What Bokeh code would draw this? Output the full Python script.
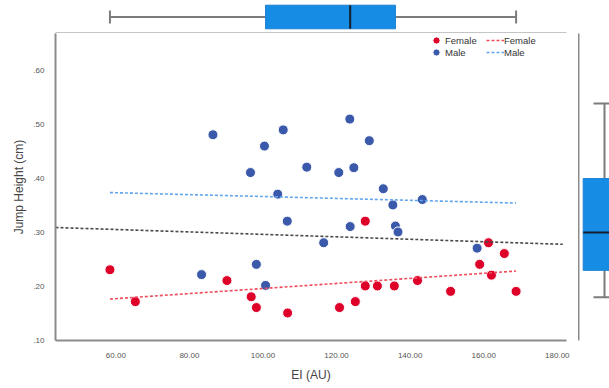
import numpy as np
from bokeh.plotting import figure
from bokeh.layouts import column, row
from bokeh.models import (Range1d, FixedTicker, NumeralTickFormatter,
                          CustomJSTickFormatter, Legend, LegendItem)
from bokeh.embed import file_html
from bokeh.resources import INLINE

# Eccentric index (AU) and jump height (cm) per athlete
female_ei = [58.4, 65.3, 90.2, 96.8, 98.2, 106.7, 127.8, 161.3, 165.6, 158.9,
             162.1, 168.8, 151.0, 142.0, 135.7, 131.1, 127.8, 125.1, 120.8]
female_jump = [0.231, 0.172, 0.211, 0.181, 0.161, 0.151, 0.321, 0.281, 0.261, 0.241,
               0.221, 0.191, 0.191, 0.211, 0.201, 0.201, 0.201, 0.172, 0.161]
male_ei = [86.4, 105.5, 100.4, 96.6, 111.9, 104.0, 106.6, 98.2, 83.3, 100.7, 123.6,
           128.9, 120.6, 124.7, 132.7, 135.3, 143.3, 123.7, 136.0, 136.7, 116.5, 158.2]
male_jump = [0.481, 0.490, 0.460, 0.411, 0.421, 0.371, 0.321, 0.241, 0.222, 0.202, 0.510,
             0.470, 0.411, 0.420, 0.381, 0.351, 0.361, 0.311, 0.312, 0.301, 0.281, 0.271]

x_ticks = [60, 80, 100, 120, 140, 160, 180]
y_ticks = [0.10, 0.20, 0.30, 0.40, 0.50, 0.60]
groups = ["Female", "Male"]

RED = "#DE0029"
BLUE = "#3B59AA"
RED_FIT = "#EE4C5C"
BLUE_FIT = "#62A5EE"
TOTAL_FIT = "#4A4A4A"
BOX = "#178CE4"
WHISKER = "#7C7C7C"
AXIS = "#8C8C8C"
FONT = "Liberation Sans"

all_ei = np.array(female_ei + male_ei)
all_jump = np.array(female_jump + male_jump)


def tukey_stats(vals):
    v = np.sort(np.asarray(vals))
    n = len(v)
    half = (n + 1) // 2
    return v[0], np.median(v[:half]), np.median(v), np.median(v[n - half:]), v[-1]


x_rng = Range1d(43.6, 182.5)
y_rng = Range1d(0.10, 0.6685)

# ---- main scatter panel ----
p = figure(width=578, height=355, x_range=x_rng, y_range=y_rng,
           output_backend="svg", toolbar_location=None,
           min_border_left=55, min_border_right=12,
           min_border_top=0, min_border_bottom=48)
p.outline_line_color = None
p.grid.visible = False
p.background_fill_color = "white"

fem_pts = p.scatter(female_ei, female_jump, size=10, fill_color=RED,
                    line_color="white", line_width=1)
male_pts = p.scatter(male_ei, male_jump, size=10, fill_color=BLUE,
                     line_color="white", line_width=1)

# least-squares fits per group, drawn over the full EI span
x_lo, x_hi = all_ei.min(), all_ei.max()
xs = np.array([x_lo, x_hi])
fb, fa = np.polyfit(female_ei, female_jump, 1)
mb, ma = np.polyfit(male_ei, male_jump, 1)
tb, ta = np.polyfit(all_ei, all_jump, 1)
fem_fit = p.line(xs, fa + fb * xs, line_color=RED_FIT, line_width=1.6, line_dash="3 2")
male_fit = p.line(xs, ma + mb * xs, line_color=BLUE_FIT, line_width=1.6, line_dash="3 2")
xt = np.array([x_rng.start, x_rng.end - 1])
p.line(xt, ta + tb * xt, line_color=TOTAL_FIT, line_width=1.6, line_dash="3 2")

for ax in (p.xaxis[0], p.yaxis[0]):
    ax.axis_line_color = AXIS
    ax.axis_line_width = 2
    ax.major_tick_line_color = None
    ax.minor_tick_line_color = None
    ax.major_label_text_font = FONT
    ax.major_label_text_font_size = "8px"
    ax.major_label_text_color = "#555555"
    ax.axis_label_text_font = FONT
    ax.axis_label_text_font_size = "12px"
    ax.axis_label_text_font_style = "normal"
    ax.axis_label_text_color = "#444444"

p.xaxis.ticker = FixedTicker(ticks=x_ticks)
p.xaxis.formatter = NumeralTickFormatter(format="0.00")
p.xaxis.axis_label = "EI (AU)"
p.xaxis.major_label_standoff = 6
p.xaxis.axis_label_standoff = 7

p.yaxis.ticker = FixedTicker(ticks=y_ticks)
p.yaxis.formatter = CustomJSTickFormatter(code="return tick.toFixed(2).replace(/^0/, '');")
p.yaxis.axis_label = "Jump Height (cm)"
p.yaxis.major_label_standoff = 5
p.yaxis.axis_label_standoff = 4

# one legend row per group: marker entry, then fit-line entry
legend_style = dict(orientation="horizontal", background_fill_alpha=0,
                    border_line_color=None, label_text_font=FONT,
                    label_text_font_size="9.5px", label_text_color="#333333",
                    glyph_width=18, glyph_height=18, label_height=12,
                    label_width=36, label_standoff=0, spacing=5, padding=0, margin=0)
leg_f = Legend(items=[LegendItem(label=groups[0], renderers=[fem_pts]),
                      LegendItem(label=groups[0], renderers=[fem_fit])],
               location=(372, 291), **legend_style)
leg_m = Legend(items=[LegendItem(label=groups[1], renderers=[male_pts]),
                      LegendItem(label=groups[1], renderers=[male_fit])],
               location=(372, 279), **legend_style)
p.add_layout(leg_f)
p.add_layout(leg_m)

# ---- marginal box plot of EI (top) ----
ex_min, ex_q1, ex_med, ex_q3, ex_max = tukey_stats(all_ei)
top = figure(width=578, height=33, x_range=x_rng, y_range=Range1d(0, 33),
             output_backend="svg", toolbar_location=None,
             min_border_left=55, min_border_right=12,
             min_border_top=0, min_border_bottom=0)
top.outline_line_color = None
top.grid.visible = False
top.yaxis.visible = False
top.xaxis.ticker = FixedTicker(ticks=[])
top.xaxis.axis_line_color = AXIS
top.xaxis.axis_line_width = 2
top.xaxis.major_label_standoff = 0
top.xaxis.major_tick_out = 0
top.xaxis.major_tick_in = 0
yc = 16.5
top.segment([ex_min, ex_q3], [yc, yc], [ex_q1, ex_max], [yc, yc],
            line_color=WHISKER, line_width=2)
top.segment([ex_min, ex_max], [yc - 6.5, yc - 6.5], [ex_min, ex_max], [yc + 6.5, yc + 6.5],
            line_color=WHISKER, line_width=2)
top.hbar(y=yc, left=ex_q1, right=ex_q3, height=23.6, fill_color=BOX,
         line_color="#1C80D2", line_width=1)
top.segment([ex_med], [yc - 11.8], [ex_med], [yc + 11.8], line_color="#14202E", line_width=2)

# ---- marginal box plot of jump height (right) ----
jy_min, jy_q1, jy_med, jy_q3, jy_max = tukey_stats(all_jump)
side = figure(width=31, height=355, x_range=Range1d(0, 31),
              y_range=Range1d(0.0711, 0.6396),
              output_backend="svg", toolbar_location=None,
              min_border_left=0, min_border_right=0,
              min_border_top=0, min_border_bottom=48)
side.outline_line_color = None
side.grid.visible = False
side.xaxis.visible = False
side.yaxis.ticker = FixedTicker(ticks=[])
side.yaxis.axis_line_color = AXIS
side.yaxis.axis_line_width = 2
side.yaxis.major_label_standoff = 0
side.yaxis.major_tick_out = 0
side.yaxis.major_tick_in = 0
xc = 26
side.segment([xc, xc], [jy_min, jy_q3], [xc, xc], [jy_q1, jy_max],
             line_color=WHISKER, line_width=2)
side.segment([xc - 11, xc - 11], [jy_min, jy_max], [xc + 11, xc + 11], [jy_min, jy_max],
             line_color=WHISKER, line_width=2)
side.vbar(x=xc, bottom=jy_q1, top=jy_q3, width=42.6, fill_color=BOX,
          line_color="#1C80D2", line_width=1)
side.segment([xc - 21.3], [jy_med], [xc + 21.3], [jy_med], line_color="#14202E", line_width=2)

layout = column(top, row(p, side, spacing=0), spacing=0)
open("out.html", "w").write(file_html(layout, INLINE))
